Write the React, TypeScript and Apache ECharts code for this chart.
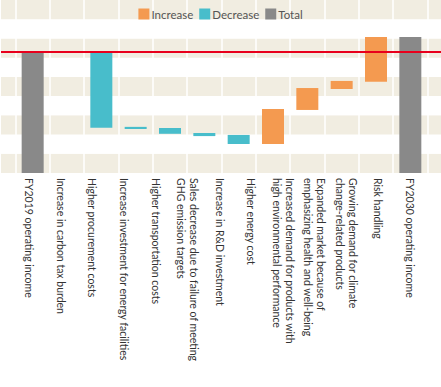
import React, { useEffect, useRef } from "react";
import * as echarts from "echarts";

// Category labels (13, as printed under the chart)
const categories = [
  "FY2019 operating income",
  "Increase in carbon tax burden",
  "Higher procurement costs",
  "Increase investment for energy facilities",
  "Higher transportation costs",
  "Sales decrease due to failure of meeting\nGHG emission targets",
  "Increase in R&D investment",
  "Higher energy cost",
  "Increased demand for products with\nhigh environmental performance",
  "Expanded market because of\nemphasizing health and well-being",
  "Growing demand for climate\nchange-related products",
  "Risk handling",
  "FY2030 operating income",
];

// Bar slots as drawn (12 slots)
const baseValues = [0, 0, 2.36, 2.29, 2.04, 1.92, 1.51, 1.51, 3.28, 4.37, 4.75, 0];
const decreaseValues: (number | string)[] = ["-", 0, 3.91, 0.11, 0.3, 0.16, 0.47, "-", "-", "-", "-", "-"];
const increaseValues: (number | string)[] = ["-", "-", "-", "-", "-", "-", "-", 1.82, 1.14, 0.42, 2.33, "-"];
const totalValues: (number | string)[] = [6.27, "-", "-", "-", "-", "-", "-", "-", "-", "-", "-", 7.08];
const referenceLine = 6.29;

const FONT = "Lato, 'DejaVu Sans', sans-serif";

export default function App() {
  const ref = useRef<HTMLDivElement>(null);
  useEffect(() => {
    if (!ref.current) return;
    const chart = echarts.init(ref.current, undefined, { renderer: "svg" });
    const slots = baseValues.map((_, i) => String(i));
    const yCommon = { type: "value", min: 0, max: 9, interval: 1, axisLabel: { show: false }, axisLine: { show: false }, axisTick: { show: false } };
    chart.setOption({
      animation: false,
      backgroundColor: "#fff",
      textStyle: { fontFamily: FONT },
      legend: {
        top: 3,
        left: "center",
        itemWidth: 11,
        itemHeight: 11,
        itemGap: 6,
        icon: "rect",
        data: ["Increase", "Decrease", "Total"],
        textStyle: { fontFamily: FONT, fontSize: 11.5, color: "#555", padding: [0, 0, 0, -3] },
      },
      grid: [
        { left: 1, right: 0, top: 0, bottom: 214 },
        { left: 15.5, right: 13.5, top: 0, bottom: 214 },
        { left: 13, right: 15, top: 0, bottom: 214 },
      ],
      xAxis: [
        { type: "value", gridIndex: 0, min: 0, max: 1, show: false },
        {
          type: "category",
          gridIndex: 1,
          data: slots,
          axisLabel: { show: false },
          axisLine: { show: false },
          axisTick: { show: false },
          splitLine: { show: true, interval: 0, lineStyle: { color: "#fff", width: 1.5 } },
        },
        {
          type: "category",
          gridIndex: 2,
          data: categories,
          axisLine: { show: false },
          axisTick: { show: false },
          axisLabel: {
            interval: 0,
            rotate: -90,
            margin: 5,
            fontFamily: FONT,
            fontSize: 10.5,
            lineHeight: 13,
            color: "#333",
          },
        },
      ],
      yAxis: [
        {
          ...yCommon,
          gridIndex: 0,
          splitLine: { show: false },
          splitArea: { show: true, areaStyle: { color: ["#f1ede1", "#ffffff"] } },
        },
        { ...yCommon, gridIndex: 1, splitLine: { show: false } },
        { ...yCommon, gridIndex: 2, splitLine: { show: false } },
      ],
      series: [
        {
          type: "line",
          xAxisIndex: 0,
          yAxisIndex: 0,
          data: [],
          z: 10,
          markLine: {
            silent: true,
            symbol: "none",
            label: { show: false },
            lineStyle: { color: "#e8001c", width: 2, type: "solid" },
            data: [{ yAxis: referenceLine }],
          },
        },
        {
          name: "base",
          type: "bar",
          xAxisIndex: 1,
          yAxisIndex: 1,
          stack: "wf",
          barWidth: 22,
          itemStyle: { color: "transparent" },
          data: baseValues,
        },
        {
          name: "Increase",
          type: "bar",
          xAxisIndex: 1,
          yAxisIndex: 1,
          stack: "wf",
          barWidth: 22,
          itemStyle: { color: "#f49a50" },
          data: increaseValues,
        },
        {
          name: "Decrease",
          type: "bar",
          xAxisIndex: 1,
          yAxisIndex: 1,
          stack: "wf",
          barWidth: 22,
          itemStyle: { color: "#48bdcb" },
          data: decreaseValues,
        },
        {
          name: "Total",
          type: "bar",
          xAxisIndex: 1,
          yAxisIndex: 1,
          stack: "wf",
          barWidth: 22,
          itemStyle: { color: "#898989" },
          data: totalValues,
        },
      ],
    });
    return () => chart.dispose();
  }, []);
  return <div ref={ref} style={{ width: 441, height: 387, position: "absolute", left: 0, top: 0 }} />;
}
